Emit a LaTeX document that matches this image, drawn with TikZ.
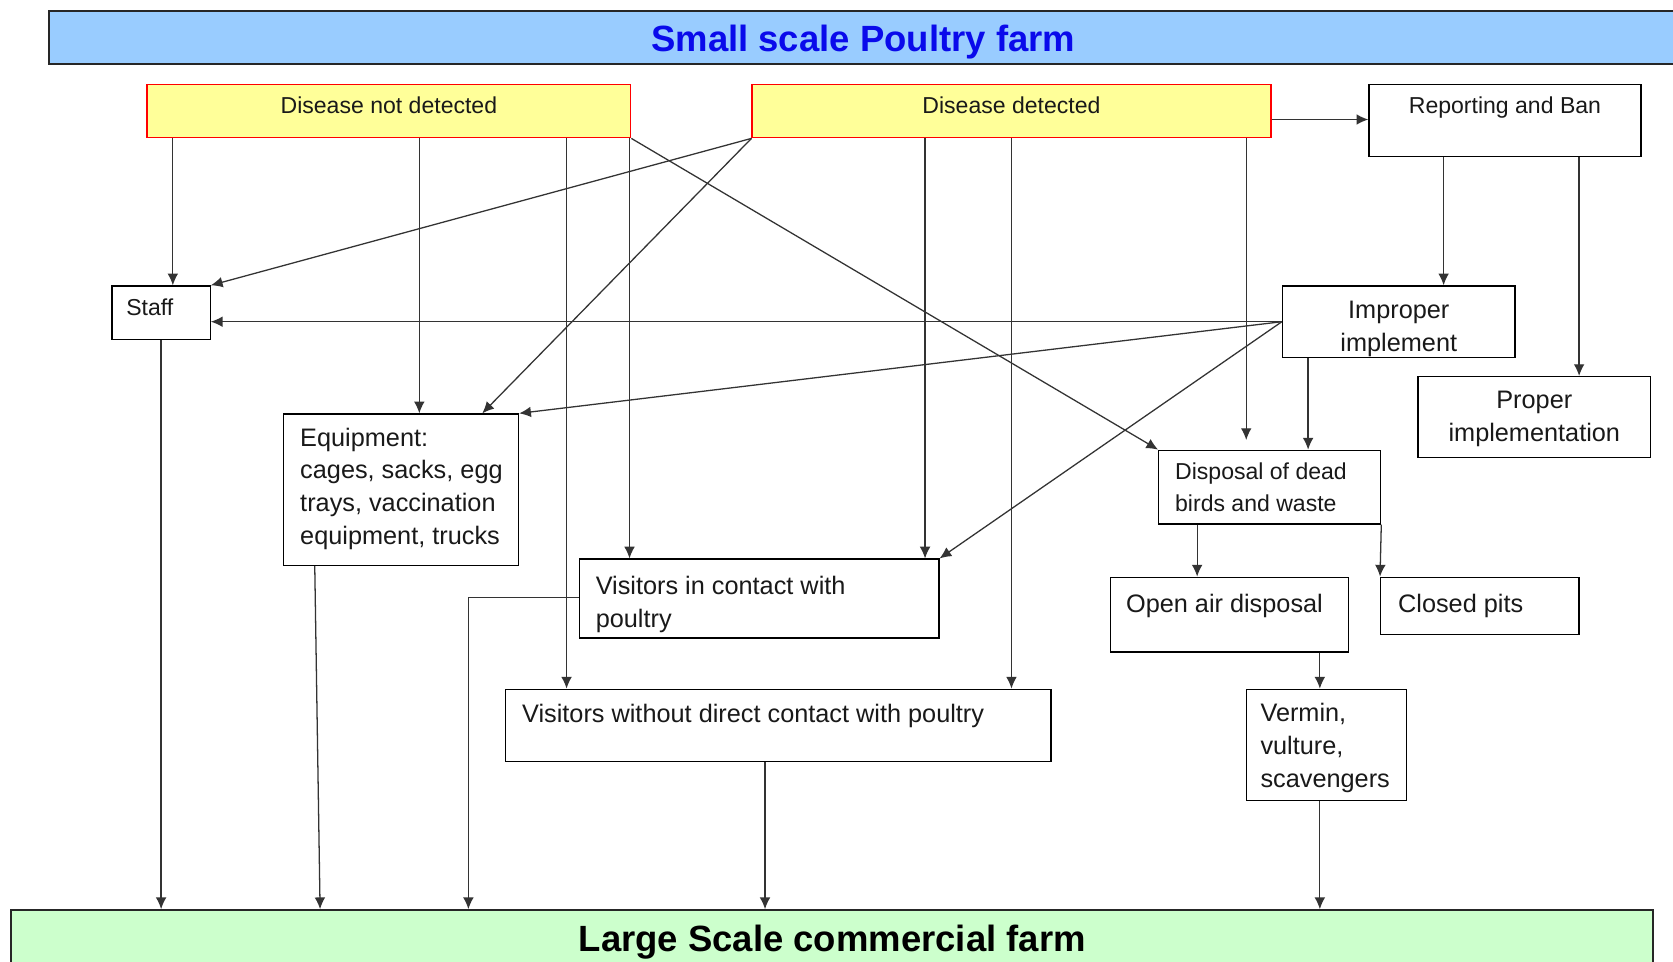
\documentclass[tikz,border=0pt]{standalone}
\usepackage{fontspec}
\setmainfont{Liberation Sans}
\usetikzlibrary{fit,arrows.meta}
\definecolor{bannerblue}{RGB}{153,204,255}
\definecolor{titleblue}{RGB}{10,10,235}
\definecolor{bannergreen}{RGB}{204,255,204}
\definecolor{dyellow}{RGB}{255,255,153}
\begin{document}
\begin{tikzpicture}[x=0.5pt,y=-0.5pt,
  box/.style={draw=black, line width=0.6pt, inner sep=0pt, fill=white},
  dbox/.style={draw=red, line width=0.7pt, fill=dyellow, inner sep=0pt},
  banner/.style={draw=black!85, line width=0.9pt, inner sep=0pt},
  small/.style={font=\fontsize{10.8}{15}\selectfont, inner sep=0pt, text=black!90},
  large/.style={font=\fontsize{11.85}{15.4}\selectfont, inner sep=0pt, align=left, text=black!90},
  bigtitle/.style={font=\fontsize{17.1}{20}\selectfont\bfseries, inner sep=0pt},
  arr/.style={draw=black!80, line width=0.6pt, -{Latex[length=5.5pt,width=5pt]}},
  ln/.style={draw=black!80, line width=0.6pt}
]
\useasboundingbox (0,0) rectangle (1568,901);

% banners
\node[banner, fill=bannerblue, fit={(46,10)(1600,60)}] (top) {};
\node[bigtitle, text=titleblue, anchor=base] (toptxt) at (809,48) {Small scale Poultry farm};
\node[banner, fill=bannergreen, fit={(10,853)(1549,930)}] (large) {};
\node[bigtitle, text=black, anchor=base] (largetxt) at (780,892) {Large Scale commercial farm};

% boxes
\node[dbox, fit={(138,79)(591,129)}] (dnd) {};
\node[dbox, fit={(705,79)(1191,129)}] (dd) {};
\node[box, fit={(1283,79)(1538,147)}] (rb) {};
\node[box, fit={(105,268)(197,318)}] (staff) {};
\node[box, fit={(1202,268)(1420,335)}] (imp) {};
\node[box, fit={(1329,353)(1547,429)}] (prop) {};
\node[box, fit={(266,388)(486,530)}] (equip) {};
\node[box, fit={(1086,422)(1294,491)}] (disp) {};
\node[box, fit={(543,524)(880,598)}] (vic) {};
\node[box, fit={(1041,541)(1264,611)}] (oad) {};
\node[box, fit={(1294,541)(1480,595)}] (cp) {};
\node[box, fit={(474,646)(985,714)}] (vwo) {};
\node[box, fit={(1168,646)(1318,750)}] (verm) {};

% texts
\node[small, anchor=north] (dndt) at (364.5,90.6) {Disease not detected};
\node[small, anchor=north] (ddt) at (948,90.6) {Disease detected};
\node[small, anchor=north] (rbt) at (1410.5,90.6) {Reporting and Ban};
\node[small, anchor=north west] (stafft) at (118,279.6) {Staff};
\node[large, align=center, anchor=north] (impt) at (1311,281.5) {Improper\\implement};
\node[large, align=center, anchor=north] (propt) at (1438,366.5) {Proper\\implementation};
\node[large, anchor=north west] (equipt) at (281,400.5) {Equipment:\\cages, sacks, egg\\trays, vaccination\\equipment, trucks};
\node[small, align=left, anchor=north west] (dispt) at (1101,433.6) {Disposal of dead\\birds and waste};
\node[large, anchor=north west] (vict) at (558,539.5) {Visitors in contact with\\poultry};
\node[large, anchor=north west] (oadt) at (1055,556.5) {Open air disposal};
\node[large, anchor=north west] (cpt) at (1310,556.5) {Closed pits};
\node[large, anchor=north west] (vwot) at (489,659.5) {Visitors without direct contact with poultry};
\node[large, anchor=north west] (vermt) at (1181,658.5) {Vermin,\\vulture,\\scavengers};

% connectors from Disease not detected
\draw[arr] (dnd.south -| 162,0) -- (staff.north -| 162,0);
\draw[arr] (dnd.south -| 393,0) -- (equip.north -| 393,0);
\draw[arr] (dnd.south -| 531,0) -- (vwo.north -| 531,0);
\draw[arr] (dnd.south -| 590,0) -- (vic.north -| 590,0);
\draw[arr] (dnd.south east) -- (disp.north west);

% connectors from Disease detected
\draw[arr] (dd.south west) -- (staff.north east);
\draw[arr] (dd.south west) -- (equip.north -| 452,0);
\draw[arr] (dd.south -| 867,0) -- (vic.north -| 867,0);
\draw[arr] (dd.south -| 948,0) -- (vwo.north -| 948,0);
\draw[arr, shorten >=4.5pt] (dd.south -| 1168,0) -- (disp.north -| 1168,0);
\draw[arr] (dd.east |- 0,112) -- (rb.west |- 0,112);

% Reporting and Ban
\draw[arr] (rb.south -| 1353,0) -- (imp.north -| 1353,0);
\draw[arr] (rb.south -| 1480,0) -- (prop.north -| 1480,0);

% Improper implement
\draw[arr] (imp.west) -- (staff.east |- imp.west);
\draw[arr] (imp.west) -- (equip.north east);
\draw[arr] (imp.west) -- (vic.north east);
\draw[arr] (imp.south -| 1226,0) -- (disp.north -| 1226,0);

% disposal chain
\draw[arr] (disp.south -| 1122,0) -- (oad.north -| 1122,0);
\draw[arr] (disp.south east) -- (cp.north west);
\draw[arr] (oad.south -| 1237,0) -- (verm.north -| 1237,0);
\draw[arr] (verm.south -| 1237,0) -- (large.north -| 1237,0);

% to large scale farm
\draw[arr] (staff.south -| 151,0) -- (large.north -| 151,0);
\draw[arr] (equip.south -| 295,0) -- (large.north -| 300,0);
\draw[arr] (vic.west |- 0,560) -| (large.north -| 439,0);
\draw[arr] (vwo.south -| 717,0) -- (large.north -| 717,0);
\end{tikzpicture}
\end{document}
